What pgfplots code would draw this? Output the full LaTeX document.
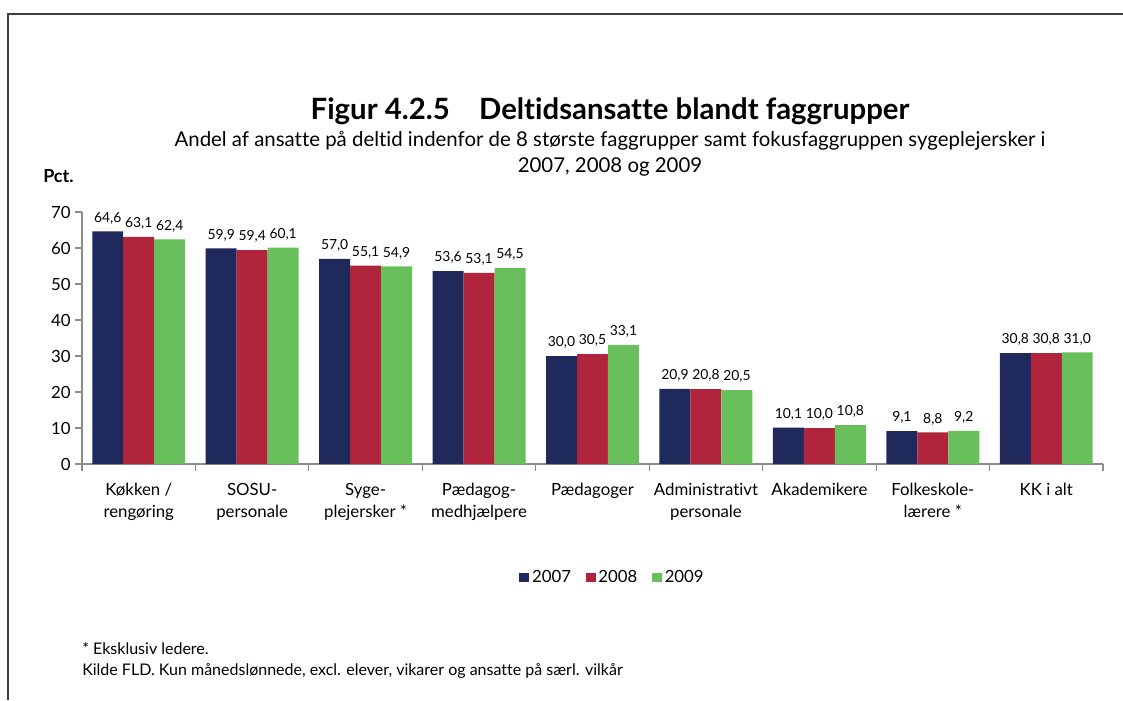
\documentclass[border=0pt]{standalone}
\usepackage{fontspec}
\setmainfont{Lato}[RawFeature=-liga]
\usepackage{pgfplots}
\pgfplotsset{compat=1.18}
\definecolor{c07}{HTML}{1F295C}
\definecolor{c08}{HTML}{B0253C}
\definecolor{c09}{HTML}{6ABF5D}
\definecolor{axgray}{HTML}{8C8C8C}

\begin{document}
\begin{tikzpicture}
\path[use as bounding box] (0,0) rectangle (842.25pt,525pt);
% texts and frame in pixel coordinates of the reference
\begin{scope}[x=0.75pt, y=-0.75pt, yshift=525pt]
  \draw[line width=1.1pt, black!75] (8,700) -- (8,14) -- (1123,14);
  \node[anchor=base, font=\fontsize{22}{24}\selectfont\bfseries] at (610,120)
    {Figur 4.2.5\quad Deltidsansatte blandt faggrupper};
  \node[anchor=base, font=\fontsize{15.3}{17}\selectfont] at (610,147)
    {Andel af ansatte på deltid indenfor de 8 største faggrupper samt fokusfaggruppen sygeplejersker i};
  \node[anchor=base, font=\fontsize{15.3}{17}\selectfont] at (610,173)
    {2007, 2008 og 2009};
  \node[anchor=base west, inner sep=0pt, font=\fontsize{13.5}{15}\selectfont\bfseries] at (43,183) {Pct.};
  \node[anchor=base west, inner sep=0pt, font=\fontsize{12}{14}\selectfont] at (82,654) {* Eksklusiv ledere.};
  \node[anchor=base west, inner sep=0pt, font=\fontsize{12}{14}\selectfont] at (82,675)
    {Kilde FLD. Kun månedslønnede, excl. elever, vikarer og ansatte på særl. vilkår};
\end{scope}

\begin{axis}[
  at={(61.5pt,177pt)}, anchor=south west, scale only axis,
  width=765.75pt, height=189pt,
  xmin=-0.5, xmax=8.5, ymin=0, ymax=70,
  ybar=0pt, bar width=0.273,
  axis x line*=bottom, axis y line*=left,
  axis line style={axgray, line width=1.2pt},
  tick align=outside,
  tick style={axgray, line width=0.9pt},
  major tick length=5pt, minor tick length=5pt,
  xtick={0,...,8},
  major x tick style={draw=none},
  minor xtick={-0.5,0.5,...,8.5},
  xticklabels={{Køkken /\\rengøring},{SOSU-\\personale},{Syge-\\plejersker *},
    {Pædagog-\\medhjælpere},{Pædagoger},{Administrativt\\personale},{Akademikere},
    {Folkeskole-\\lærere *},{KK i alt}},
  x tick label style={align=center, font=\fontsize{12.6}{16.5}\selectfont, yshift=-6pt},
  ytick={0,10,...,70},
  y tick label style={font=\fontsize{12.6}{14}\selectfont},
  /pgf/number format/assume math mode=true,
  nodes near coords={\pgfmathprintnumber[fixed,fixed zerofill,precision=1,use comma,assume math mode=true]{\pgfplotspointmeta}},
  every node near coord/.append style={font=\fontsize{10.4}{12}\selectfont, black, yshift=2pt},
  legend style={at={(0.52,-0.45)}, anchor=center, draw=none, legend columns=3,
    font=\fontsize{12.6}{14}\selectfont,
    /tikz/every even column/.append style={column sep=9pt}},
  legend image code/.code={\fill[#1] (0pt,-3.5pt) rectangle (7.5pt,3.5pt);},
]
\addplot[fill=c07, draw=none] coordinates {
  (0,64.6) (1,59.9) (2,57.0) (3,53.6) (4,30.0) (5,20.9) (6,10.1) (7,9.1) (8,30.8)};
\addplot[fill=c08, draw=none] coordinates {
  (0,63.1) (1,59.4) (2,55.1) (3,53.1) (4,30.5) (5,20.8) (6,10.0) (7,8.8) (8,30.8)};
\addplot[fill=c09, draw=none] coordinates {
  (0,62.4) (1,60.1) (2,54.9) (3,54.5) (4,33.1) (5,20.5) (6,10.8) (7,9.2) (8,31.0)};
\legend{2007,2008,2009}
\end{axis}
\end{tikzpicture}
\end{document}
